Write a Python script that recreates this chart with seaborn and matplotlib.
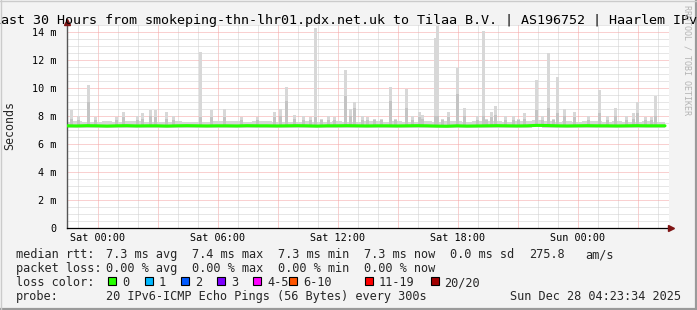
import numpy as np
import pandas as pd
import matplotlib
matplotlib.use("Agg")
import matplotlib.pyplot as plt
from matplotlib.patches import Rectangle
import seaborn as sns

# ------------------------------------------------------------------ data
title = "Last 30 Hours from smokeping-thn-lhr01.pdx.net.uk to Tilaa B.V. | AS196752 | Haarlem IPv6"

# time axis in hours relative to Sat 00:00 (half-hour samples)
median_t = [-1.55 + 0.5 * i for i in range(60)] + [28.35]
median_ms = [7.30, 7.29, 7.31, 7.30, 7.28, 7.30, 7.31, 7.29, 7.30, 7.30,
             7.28, 7.30, 7.31, 7.30, 7.29, 7.30, 7.30, 7.29, 7.31, 7.30,
             7.30, 7.29, 7.30, 7.31, 7.30, 7.28, 7.30, 7.30, 7.31, 7.30,
             7.29, 7.30, 7.30, 7.29, 7.30, 7.31, 7.30, 7.28, 7.27, 7.30,
             7.28, 7.29, 7.30, 7.31, 7.30, 7.29, 7.30, 7.33, 7.32, 7.30,
             7.29, 7.30, 7.31, 7.30, 7.30, 7.29, 7.30, 7.31, 7.30, 7.30, 7.30]
smoke_lo = [7.16, 7.15, 7.16, 7.17, 7.15, 7.16, 7.16, 7.15, 7.16, 7.17,
            7.15, 7.16, 7.16, 7.15, 7.16, 7.16, 7.17, 7.15, 7.16, 7.16,
            7.15, 7.16, 7.16, 7.17, 7.15, 7.14, 7.16, 7.16, 7.15, 7.16,
            7.16, 7.15, 7.16, 7.17, 7.16, 7.15, 7.16, 7.14, 7.13, 7.15,
            7.14, 7.15, 7.16, 7.16, 7.15, 7.16, 7.16, 7.18, 7.17, 7.16,
            7.15, 7.16, 7.16, 7.15, 7.16, 7.15, 7.16, 7.16, 7.15, 7.16, 7.16]
smoke_hi = [7.60, 7.62, 7.58, 7.60, 7.62, 7.60, 7.65, 7.62, 7.60, 7.58,
            7.60, 7.62, 7.60, 7.58, 7.60, 7.62, 7.65, 7.62, 7.60, 7.62,
            7.65, 7.60, 7.58, 7.60, 7.62, 7.60, 7.58, 7.62, 7.60, 7.60,
            7.62, 7.65, 7.60, 7.62, 7.60, 7.58, 7.62, 7.60, 7.65, 7.62,
            7.60, 7.62, 7.65, 7.62, 7.60, 7.62, 7.65, 7.68, 7.62, 7.60,
            7.62, 7.60, 7.62, 7.65, 7.60, 7.62, 7.60, 7.58, 7.62, 7.60, 7.60]

# smoke excursions: position (hours), max ping (ms), upper-quartile ping (ms)
spike_t = [-1.35, -1.0, -0.48, -0.15, 0.9, 1.25, 1.95, 2.2, 2.6, 2.85,
           3.45, 3.8, 5.15, 5.7, 6.33, 7.2, 8.0, 8.85, 9.15, 9.45,
           9.85, 10.3, 10.65, 10.9, 11.2, 11.55, 11.85, 12.38, 12.65, 12.85,
           13.25, 13.5, 13.85, 14.2, 14.65, 14.9, 15.45, 15.75, 16.1, 16.25,
           16.88, 16.98, 17.25, 17.52, 18.0, 18.35, 19.0, 19.3, 19.45, 19.7,
           19.9, 20.4, 20.8, 21.05, 21.35, 21.95, 22.25, 22.52, 22.8, 23.0,
           23.35, 23.85, 24.55, 25.1, 25.5, 25.9, 26.45, 26.8, 27.0, 27.4,
           27.7, 27.9]
spike_top = [8.4, 8.0, 10.2, 7.9, 7.95, 8.3, 8.0, 8.2, 8.4, 8.4,
             8.3, 8.0, 12.6, 8.4, 8.5, 7.9, 7.9, 8.3, 8.5, 10.1,
             8.1, 8.0, 7.9, 14.3, 7.8, 8.0, 7.9, 11.3, 8.5, 9.0,
             8.0, 7.9, 7.8, 7.8, 10.1, 7.8, 9.9, 8.0, 8.3, 8.1,
             13.6, 14.4, 7.8, 8.3, 11.4, 8.55, 8.0, 14.1, 7.8, 8.3,
             8.7, 8.0, 8.0, 7.8, 8.2, 10.55, 8.0, 12.5, 7.8, 10.8,
             8.5, 8.3, 8.0, 9.85, 8.0, 8.57, 8.0, 8.2, 9.0, 7.9,
             7.9, 9.4]
spike_mid = [7.8, 7.7, 9.0, 7.7, 7.7, 7.9, 7.7, 7.8, 8.0, 7.9,
             7.8, 7.7, 7.9, 7.9, 7.9, 7.7, 7.7, 7.9, 8.0, 9.1,
             7.8, 7.7, 7.7, 7.9, 7.7, 7.7, 7.7, 9.4, 8.0, 8.6,
             7.7, 7.7, 7.7, 7.7, 9.1, 7.7, 8.6, 7.7, 7.9, 7.8,
             8.0, 8.0, 7.7, 7.9, 9.6, 8.0, 7.7, 8.0, 7.7, 7.9,
             8.1, 7.7, 7.7, 7.7, 7.8, 8.4, 7.7, 8.6, 7.7, 8.2,
             8.0, 7.9, 7.7, 8.2, 7.7, 8.0, 7.7, 7.8, 8.2, 7.7,
             7.7, 8.0]

xtick_hours = [0, 6, 12, 18, 24]
xtick_labels = ["Sat 00:00", "Sat 06:00", "Sat 12:00", "Sat 18:00", "Sun 00:00"]
ytick_vals = [0, 2, 4, 6, 8, 10, 12, 14]
ytick_labels = ["0", "2 m", "4 m", "6 m", "8 m", "10 m", "12 m", "14 m"]

rtt_labels = ["7.3 ms avg", "7.4 ms max", "7.3 ms min", "7.3 ms now", "0.0 ms sd", "275.8", "am/s"]
loss_labels = ["0.00 % avg", "0.00 % max", "0.00 % min", "0.00 % now"]
loss_names = ["0", "1", "2", "3", "4-5", "6-10", "11-19", "20/20"]
loss_colors = ["#26ff00", "#00b8ff", "#0059ff", "#7e00ff", "#ff00ff", "#ff5500", "#ff0000", "#a10000"]
probe_text = "20 IPv6-ICMP Echo Pings (56 Bytes) every 300s"
date_text = "Sun Dec 28 04:23:34 2025"

# ------------------------------------------------------------------ style
sns.set_style("white")
plt.rcParams["font.family"] = ["DejaVu Sans Mono"]

W, H = 697, 310
BG = "#f3f3f3"
fig = plt.figure(figsize=(W / 100, H / 100), dpi=100, facecolor=BG)

def fx(px):
    return px / W

def fy(py):
    return 1 - py / H

ax = fig.add_axes([fx(67), fy(228), 602 / W, 203 / H])
ax.set_facecolor("white")

# grids
maj_grid_h = [0, 3, 6, 9, 12, 15, 18, 21, 24, 27]
min_grid_h = list(range(-1, 29))
ax.set_xticks(maj_grid_h)
ax.set_xticklabels([xtick_labels[xtick_hours.index(h)] if h in xtick_hours else "" for h in maj_grid_h])
ax.set_xticks(min_grid_h, minor=True)
ax.set_yticks(ytick_vals)
ax.set_yticklabels(ytick_labels)
ax.set_yticks([v / 2 for v in range(0, 30)], minor=True)
ax.grid(which="major", color="#f4a3a3", linestyle=(0, (1, 1)), linewidth=0.72)
ax.grid(which="minor", color="#cfcfcf", linestyle=(0, (1, 1)), linewidth=0.72)
ax.set_axisbelow(True)

# smoke
ax.fill_between(median_t, smoke_lo, smoke_hi, step="mid", color="#d6d6d6", linewidth=0, zorder=2)
ax.bar(spike_t, [t - 7.3 for t in spike_top], bottom=7.3, width=0.15,
       color="#d8d8d8", linewidth=0, zorder=2)
ax.bar(spike_t, [m - 7.3 for m in spike_mid], bottom=7.3, width=0.15,
       color="#c4c4c4", linewidth=0, zorder=2.1)

# median
df = pd.DataFrame({"t": median_t, "ms": median_ms})
sns.lineplot(data=df, x="t", y="ms", ax=ax, color="#26ff00", linewidth=2.2,
             legend=False, zorder=3)

ax.set_xlim(-1.55, 28.55)
ax.set_ylim(0, 14.5)
ax.set_xlabel("")
ax.set_ylabel("")

for s in ("top", "right"):
    ax.spines[s].set_visible(False)
ax.spines["bottom"].set_color("black")
ax.spines["bottom"].set_linewidth(0.9)
ax.spines["left"].set_color("#555555")
ax.spines["left"].set_linewidth(1.0)

ax.tick_params(axis="both", which="both", length=2, width=0.72, direction="out",
               labelsize=7.3, colors="black")
ax.tick_params(axis="x", which="major", pad=1.5, color="#f4a3a3")
ax.tick_params(axis="x", which="minor", color="#cfcfcf")
ax.tick_params(axis="y", which="major", pad=5.5, color="#f4a3a3")
ax.tick_params(axis="y", which="minor", color="#cfcfcf")

# axis arrows
ax.plot([0], [1 + 3 / 203], transform=ax.transAxes, marker="^", ms=5,
        color="#7f1414", clip_on=False, zorder=5)
ax.plot([1 + 2 / 602], [0], transform=ax.transAxes, marker=">", ms=5,
        color="#7f1414", clip_on=False, zorder=5)

# ------------------------------------------------------------------ texts
fig.text(fx(349), fy(24), title, ha="center", va="baseline", fontsize=9.6, color="black")
fig.text(fx(10), fy(125), "Seconds", rotation=90, ha="center", va="center", fontsize=8.4)
fig.text(fx(686.5), fy(5), "RRDTOOL / TOBI OETIKER", rotation=270, ha="center",
         va="top", fontsize=6, color="#b4b4b4")

LS = 8.6
fig.text(fx(15.5), fy(258), "median rtt:", ha="left", va="baseline", fontsize=LS)
for xp, s in zip([106, 192, 278, 364, 450, 529, 585], rtt_labels):
    fig.text(fx(xp), fy(258), s, ha="left", va="baseline", fontsize=LS)

fig.text(fx(15.5), fy(272), "packet loss:", ha="left", va="baseline", fontsize=LS)
for xp, s in zip([106, 192, 278, 364], loss_labels):
    fig.text(fx(xp), fy(272), s, ha="left", va="baseline", fontsize=LS)

fig.text(fx(15.5), fy(286), "loss color:", ha="left", va="baseline", fontsize=LS)
box_x = [108, 144.5, 181, 217, 253, 289, 365, 430.5]
for bx, name, c in zip(box_x, loss_names, loss_colors):
    fig.add_artist(Rectangle((fx(bx), fy(285)), 8 / W, 8 / H, transform=fig.transFigure,
                             facecolor=c, edgecolor="black", linewidth=0.8))
    fig.text(fx(bx + 14), fy(286), name, ha="left", va="baseline", fontsize=LS)

fig.text(fx(15.5), fy(300), "probe:", ha="left", va="baseline", fontsize=LS)
fig.text(fx(106), fy(300), probe_text, ha="left", va="baseline", fontsize=LS)
fig.text(fx(680.5), fy(300), date_text, ha="right", va="baseline", fontsize=LS)

# image frame shading
fig.add_artist(plt.Line2D([0, 1], [fy(309), fy(309)], transform=fig.transFigure, color="#9a9a9a", lw=1.6))
fig.add_artist(plt.Line2D([fx(696), fx(696)], [0, 1], transform=fig.transFigure, color="#9a9a9a", lw=1.6))
fig.add_artist(plt.Line2D([0, 1], [fy(0.5), fy(0.5)], transform=fig.transFigure, color="#cbcbcb", lw=1.0))
fig.add_artist(plt.Line2D([fx(0.5), fx(0.5)], [0, 1], transform=fig.transFigure, color="#cbcbcb", lw=1.0))

fig.savefig("out.png", dpi=100, facecolor=BG)
